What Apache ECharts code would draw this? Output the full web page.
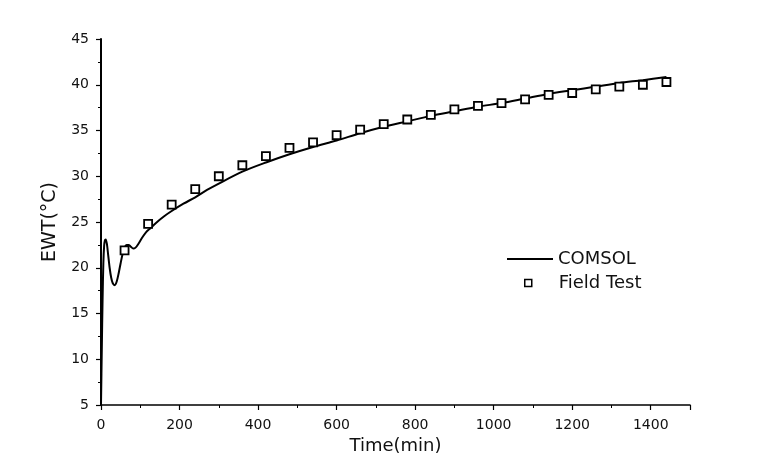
<!DOCTYPE html>
<html>
<head>
<meta charset="utf-8">
<script src="https://cdn.jsdelivr.net/npm/echarts@6/dist/echarts.min.js"></script>
<style>
html,body{margin:0;padding:0;background:#fff;}
#chart{width:781px;height:456px;}
</style>
</head>
<body>
<div id="chart"></div>
<script>
// COMSOL simulation curve: time (min) and EWT (°C)
var comsolTime = [0, 2, 4, 6, 8, 10, 12, 15, 18, 22, 26, 30, 35, 40, 45, 50, 55, 60, 65, 70, 76, 82, 88, 95, 105, 115, 125, 140, 160, 180, 210, 240, 270, 300, 360, 420, 480, 540, 600, 660, 720, 780, 840, 900, 960, 1020, 1080, 1140, 1200, 1260, 1320, 1380, 1440];
var comsolEWT  = [5, 11, 16.5, 20.5, 22.4, 23.0, 23.1, 22.6, 21.5, 20.0, 18.9, 18.3, 18.1, 18.5, 19.4, 20.5, 21.5, 22.2, 22.5, 22.5, 22.3, 22.1, 22.2, 22.6, 23.3, 23.9, 24.3, 24.9, 25.6, 26.2, 27.0, 27.7, 28.5, 29.2, 30.5, 31.5, 32.4, 33.2, 33.9, 34.7, 35.4, 36.0, 36.6, 37.1, 37.6, 38.0, 38.5, 39.0, 39.4, 39.8, 40.2, 40.5, 40.85];

// Field test measurements
var fieldTime = [60, 120, 180, 240, 300, 360, 420, 480, 540, 600, 660, 720, 780, 840, 900, 960, 1020, 1080, 1140, 1200, 1260, 1320, 1380, 1440];
var fieldEWT  = [21.9, 24.8, 26.9, 28.6, 30.0, 31.2, 32.2, 33.1, 33.7, 34.5, 35.1, 35.7, 36.2, 36.7, 37.3, 37.7, 38.0, 38.4, 38.9, 39.1, 39.5, 39.8, 40.0, 40.3];

var seriesNames = ['COMSOL', 'Field Test'];
var xName = 'Time(min)';
var yName = 'EWT(°C)';

function pairs(xs, ys) {
  var out = [];
  for (var i = 0; i < xs.length; i++) out.push([xs[i], ys[i]]);
  return out;
}

var font = 'DejaVu Sans';
var chart = echarts.init(document.getElementById('chart'));
chart.setOption({
  animation: false,
  backgroundColor: '#fff',
  grid: { left: 101, top: 39, right: 91, bottom: 51, containLabel: false, outerBoundsMode: 'none' },
  legend: [
    {
      data: [{ name: seriesNames[0], icon: 'rect' }],
      left: 502, top: 245,
      itemWidth: 46, itemHeight: 2,
      itemStyle: { color: '#000', borderWidth: 0 },
      textStyle: { fontFamily: font, fontSize: 18, color: '#111' }
    },
    {
      data: [{ name: seriesNames[1], icon: 'rect' }],
      left: 519, top: 269,
      itemWidth: 7, itemHeight: 7,
      itemStyle: { color: '#fff', borderColor: '#000', borderWidth: 1.5 },
      textStyle: { fontFamily: font, fontSize: 18, color: '#111', padding: [0, 0, 0, 22] }
    }
  ],
  xAxis: {
    type: 'value', min: 0, max: 1500, interval: 200,
    name: xName, nameLocation: 'middle', nameGap: 18,
    nameTextStyle: { fontFamily: font, fontSize: 18, color: '#111' },
    axisLine: { onZero: false, lineStyle: { color: '#000', width: 1.5 } },
    axisTick: { show: true, length: 5, lineStyle: { color: '#000', width: 1.2 } },
    minorTick: { show: true, splitNumber: 2, length: 3, lineStyle: { color: '#000', width: 1 } },
    splitLine: { show: false },
    axisLabel: { fontFamily: font, fontSize: 14, color: '#111', margin: 13, showMaxLabel: false,
      formatter: function (v) { return v >= 1500 ? '' : String(v); } }
  },
  yAxis: {
    type: 'value', min: 5, max: 45, interval: 5,
    name: yName, nameLocation: 'middle', nameGap: 41, nameRotate: 90,
    nameTextStyle: { fontFamily: font, fontSize: 19, color: '#111' },
    axisLine: { show: true, onZero: false, lineStyle: { color: '#000', width: 2 } },
    axisTick: { show: true, length: 5, lineStyle: { color: '#000', width: 1.2 } },
    minorTick: { show: true, splitNumber: 2, length: 3, lineStyle: { color: '#000', width: 1 } },
    splitLine: { show: false },
    axisLabel: { fontFamily: font, fontSize: 14, color: '#111', margin: 12 }
  },
  series: [
    {
      name: seriesNames[0], type: 'line',
      data: pairs(comsolTime, comsolEWT),
      smooth: 0.3, symbol: 'none',
      lineStyle: { color: '#000', width: 2 },
      itemStyle: { color: '#000' },
      z: 2
    },
    {
      name: seriesNames[1], type: 'scatter',
      data: pairs(fieldTime, fieldEWT),
      symbol: 'rect', symbolSize: 8,
      itemStyle: { color: '#fff', borderColor: '#000', borderWidth: 1.8, opacity: 1 },
      z: 3
    }
  ]
});
</script>
</body>
</html>
